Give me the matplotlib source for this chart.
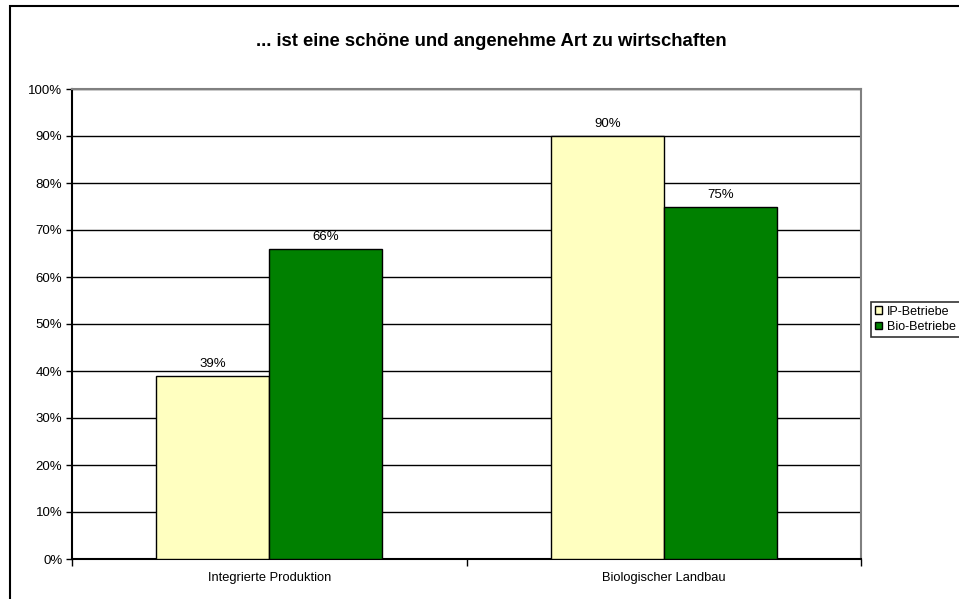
import matplotlib.pyplot as plt
from matplotlib.patches import Rectangle, Patch
import numpy as np

# === Data ===
categories = ["Integrierte Produktion", "Biologischer Landbau"]
series_names = ["IP-Betriebe", "Bio-Betriebe"]
ip_values = [39, 90]
bio_values = [66, 75]
title = "... ist eine schöne und angenehme Art zu wirtschaften"

colors = ["#FFFFC0", "#008000"]

plt.rcParams['font.family'] = ['Liberation Sans', 'DejaVu Sans']

fig = plt.figure(figsize=(9.59, 5.99), dpi=100)

# outer chart frame (clipped at right and bottom like the original)
fig.patches.append(Rectangle((10 / 959, -0.05), 1.2, 1 - 6 / 599 + 0.05,
                             transform=fig.transFigure, fill=False,
                             edgecolor="black", linewidth=1.5))

ax = fig.add_axes([72 / 959, 1 - 559 / 599, (861 - 72) / 959, (559 - 89) / 599])

x = np.arange(len(categories))
w = 0.2865
bars_ip = ax.bar(x - w / 2, ip_values, w, color=colors[0], edgecolor="black", linewidth=1, zorder=3)
bars_bio = ax.bar(x + w / 2, bio_values, w, color=colors[1], edgecolor="black", linewidth=1, zorder=3)

for bars in (bars_ip, bars_bio):
    for b in bars:
        ax.annotate(f"{int(b.get_height())}%", (b.get_x() + b.get_width() / 2, b.get_height()),
                    xytext=(0, 4), textcoords="offset points", ha="center", va="bottom",
                    fontsize=9.5)

# === Axes ===
ax.set_xlim(-0.5, len(categories) - 0.5)
ax.set_ylim(0, 100)
ax.set_yticks(range(0, 101, 10))
ax.set_yticklabels([f"{v}%" for v in range(0, 101, 10)], fontsize=9.5)
ax.set_xticks(np.arange(-0.5, len(categories), 1.0))
ax.set_xticklabels([])
ax.set_xticks(x, minor=True)
ax.set_xticklabels(categories, minor=True, fontsize=9.3)
ax.tick_params(axis="x", which="minor", length=0, pad=9)
ax.tick_params(axis="x", which="major", length=5, width=1, direction="out")
ax.tick_params(axis="y", length=4, width=1, direction="out", pad=3)

ax.yaxis.grid(True, color="black", linewidth=1)
ax.set_axisbelow(True)
for s in ("top", "right"):
    ax.spines[s].set_color("#808080")
    ax.spines[s].set_linewidth(1.5)
for s in ("left", "bottom"):
    ax.spines[s].set_color("black")
    ax.spines[s].set_linewidth(1.5)

fig.text(491 / 959, 1 - 42 / 599, title, ha="center", va="center", fontsize=13.3, fontweight="bold")

# === Legend ===
handles = [Patch(facecolor=c, edgecolor="black", label=n) for c, n in zip(colors, series_names)]
leg = fig.legend(handles=handles, loc="upper left", bbox_to_anchor=(871 / 959, 1 - 302 / 599),
                 fontsize=9, frameon=True, fancybox=False, edgecolor="black",
                 handlelength=0.6, handleheight=0.6, handletextpad=0.4,
                 borderpad=0.3, labelspacing=0.25, borderaxespad=0)
leg.get_frame().set_linewidth(1.2)

plt.savefig("out.png", dpi=100)
